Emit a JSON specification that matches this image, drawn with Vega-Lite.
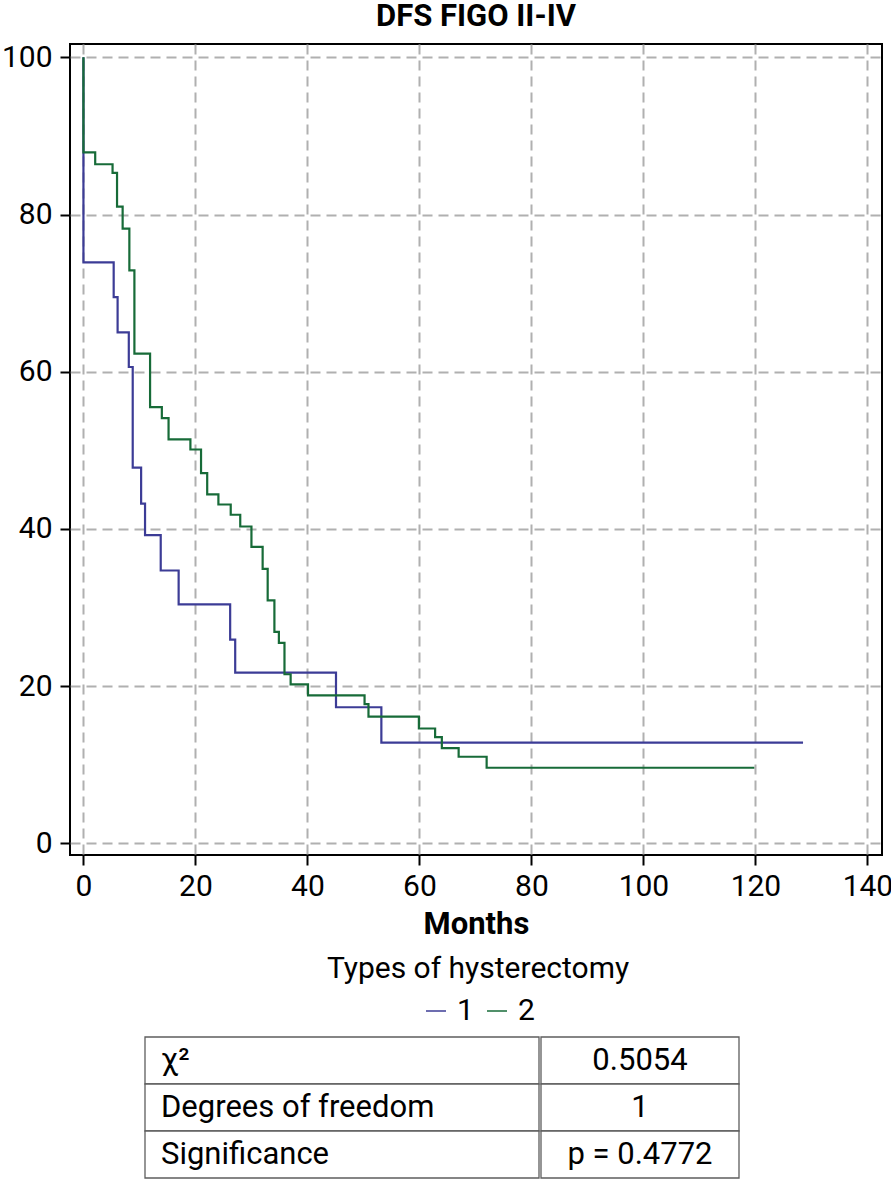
{
  "$schema": "https://vega.github.io/schema/vega-lite/v6.json",
  "padding": {"left": 0, "top": 0, "right": 0, "bottom": 0},
  "background": "white",
  "config": {
    "font": "Roboto",
    "view": {"stroke": null}
  },
  "datasets": {
    "km": [
      {"group": "1", "months": 0, "dfs": 100, "i": 0},
      {"group": "1", "months": 0, "dfs": 73.9, "i": 1},
      {"group": "1", "months": 5.4, "dfs": 69.5, "i": 2},
      {"group": "1", "months": 6.1, "dfs": 65.0, "i": 3},
      {"group": "1", "months": 8.1, "dfs": 60.6, "i": 4},
      {"group": "1", "months": 8.8, "dfs": 47.8, "i": 5},
      {"group": "1", "months": 10.3, "dfs": 43.2, "i": 6},
      {"group": "1", "months": 11.0, "dfs": 39.2, "i": 7},
      {"group": "1", "months": 13.8, "dfs": 34.7, "i": 8},
      {"group": "1", "months": 17.0, "dfs": 30.4, "i": 9},
      {"group": "1", "months": 26.2, "dfs": 25.9, "i": 10},
      {"group": "1", "months": 27.1, "dfs": 21.7, "i": 11},
      {"group": "1", "months": 45.1, "dfs": 17.3, "i": 12},
      {"group": "1", "months": 53.2, "dfs": 12.8, "i": 13},
      {"group": "1", "months": 128.5, "dfs": 12.8, "i": 14},
      {"group": "2", "months": 0, "dfs": 100, "i": 0},
      {"group": "2", "months": 0, "dfs": 87.9, "i": 1},
      {"group": "2", "months": 2.1, "dfs": 86.4, "i": 2},
      {"group": "2", "months": 5.2, "dfs": 85.3, "i": 3},
      {"group": "2", "months": 6.0, "dfs": 81.0, "i": 4},
      {"group": "2", "months": 7.0, "dfs": 78.2, "i": 5},
      {"group": "2", "months": 8.2, "dfs": 72.9, "i": 6},
      {"group": "2", "months": 9.1, "dfs": 62.3, "i": 7},
      {"group": "2", "months": 11.9, "dfs": 55.5, "i": 8},
      {"group": "2", "months": 14.0, "dfs": 54.1, "i": 9},
      {"group": "2", "months": 15.2, "dfs": 51.4, "i": 10},
      {"group": "2", "months": 19.1, "dfs": 50.1, "i": 11},
      {"group": "2", "months": 21.0, "dfs": 47.1, "i": 12},
      {"group": "2", "months": 22.1, "dfs": 44.4, "i": 13},
      {"group": "2", "months": 24.1, "dfs": 43.1, "i": 14},
      {"group": "2", "months": 26.3, "dfs": 41.8, "i": 15},
      {"group": "2", "months": 28.0, "dfs": 40.3, "i": 16},
      {"group": "2", "months": 30.0, "dfs": 37.7, "i": 17},
      {"group": "2", "months": 32.0, "dfs": 34.9, "i": 18},
      {"group": "2", "months": 32.9, "dfs": 30.9, "i": 19},
      {"group": "2", "months": 34.1, "dfs": 26.9, "i": 20},
      {"group": "2", "months": 34.9, "dfs": 25.5, "i": 21},
      {"group": "2", "months": 35.9, "dfs": 21.5, "i": 22},
      {"group": "2", "months": 37.0, "dfs": 20.2, "i": 23},
      {"group": "2", "months": 40.1, "dfs": 18.8, "i": 24},
      {"group": "2", "months": 50.2, "dfs": 17.7, "i": 25},
      {"group": "2", "months": 50.9, "dfs": 16.1, "i": 26},
      {"group": "2", "months": 59.9, "dfs": 14.6, "i": 27},
      {"group": "2", "months": 62.8, "dfs": 13.5, "i": 28},
      {"group": "2", "months": 64.0, "dfs": 12.1, "i": 29},
      {"group": "2", "months": 67.0, "dfs": 11.0, "i": 30},
      {"group": "2", "months": 72.0, "dfs": 9.6, "i": 31},
      {"group": "2", "months": 119.8, "dfs": 9.6, "i": 32}
    ],
    "tbl": [
      {"label": "χ²", "value": "0.5054"},
      {"label": "Degrees of freedom", "value": "1"},
      {"label": "Significance", "value": "p = 0.4772"}
    ]
  },
  "vconcat": [
    {
      "title": {
        "text": "DFS FIGO II-IV",
        "font": "Roboto",
        "fontSize": 31,
        "fontWeight": "bold",
        "color": "black",
        "anchor": "middle",
        "baseline": "alphabetic",
        "offset": -15
      },
      "width": 812,
      "height": 811,
      "view": {"stroke": "black", "strokeWidth": 2},
      "data": {"name": "km"},
      "mark": {"type": "line", "interpolate": "step-after", "strokeWidth": 2.2},
      "encoding": {
        "x": {
          "field": "months",
          "type": "quantitative",
          "scale": {"domain": [-2.4, 142.6], "nice": false, "zero": false},
          "axis": {
            "values": [0, 20, 40, 60, 80, 100, 120, 140],
            "title": "Months",
            "titleFont": "Roboto",
            "titleFontSize": 31,
            "titleFontWeight": "bold",
            "titleColor": "black",
            "titlePadding": 8,
            "labelFont": "Roboto",
            "labelFontSize": 30,
            "labelColor": "black",
            "labelPadding": 6,
            "labelFlush": false,
            "labelOverlap": false,
            "domain": false,
            "ticks": true,
            "tickSize": 10,
            "tickWidth": 2,
            "tickColor": "black",
            "grid": true,
            "gridColor": "#b0b0b0",
            "gridDash": [10, 6],
            "gridWidth": 2
          }
        },
        "y": {
          "field": "dfs",
          "type": "quantitative",
          "scale": {"domain": [-1.5, 101.7], "nice": false, "zero": false},
          "axis": {
            "values": [0, 20, 40, 60, 80, 100],
            "title": null,
            "labelFont": "Roboto",
            "labelFontSize": 30,
            "labelColor": "black",
            "labelPadding": 8,
            "labelFlush": false,
            "labelOverlap": false,
            "domain": false,
            "ticks": true,
            "tickSize": 10,
            "tickWidth": 2,
            "tickColor": "black",
            "grid": true,
            "gridColor": "#b0b0b0",
            "gridDash": [10, 6],
            "gridWidth": 2
          }
        },
        "color": {
          "field": "group",
          "type": "nominal",
          "scale": {"domain": ["1", "2"], "range": ["#3c3c96", "#176b38"]},
          "legend": {
            "orient": "none",
            "legendX": 257,
            "legendY": 910,
            "direction": "horizontal",
            "title": "Types of hysterectomy",
            "titleFont": "Roboto",
            "titleFontSize": 30,
            "titleFontWeight": "normal",
            "titleColor": "black",
            "titleAnchor": "middle",
            "titleLimit": 0,
            "titlePadding": 12,
            "labelFont": "Roboto",
            "labelFontSize": 30,
            "labelColor": "black",
            "labelOffset": 6,
            "symbolType": "stroke",
            "symbolStrokeWidth": 1.5,
            "symbolSize": 400,
            "columnPadding": 8
          }
        },
        "order": {"field": "i", "type": "quantitative"}
      }
    },
    {
      "spacing": 0,
      "data": {"name": "tbl"},
      "hconcat": [
        {
          "width": 74,
          "height": 141,
          "data": {"values": []},
          "mark": "text"
        },
        {
          "width": 394,
          "height": 141,
          "layer": [
            {
              "mark": {"type": "rect", "fill": "white", "stroke": "#5e5e5e", "strokeWidth": 1.3},
              "encoding": {
                "y": {"field": "label", "type": "nominal", "sort": null, "axis": null,
                      "scale": {"paddingInner": 0, "paddingOuter": 0}}
              }
            },
            {
              "mark": {"type": "text", "align": "left", "baseline": "middle", "dx": 16, "font": "Roboto", "fontSize": 31, "color": "black"},
              "encoding": {
                "y": {"field": "label", "type": "nominal", "sort": null, "axis": null,
                      "scale": {"paddingInner": 0, "paddingOuter": 0}},
                "x": {"datum": 0, "type": "quantitative", "scale": {"domain": [0, 1]}, "axis": null},
                "text": {"field": "label"}
              }
            }
          ]
        },
        {
          "width": 198,
          "height": 141,
          "layer": [
            {
              "mark": {"type": "rect", "fill": "white", "stroke": "#5e5e5e", "strokeWidth": 1.3},
              "encoding": {
                "y": {"field": "label", "type": "nominal", "sort": null, "axis": null,
                      "scale": {"paddingInner": 0, "paddingOuter": 0}}
              }
            },
            {
              "mark": {"type": "text", "align": "center", "baseline": "middle", "font": "Roboto", "fontSize": 31, "color": "black"},
              "encoding": {
                "y": {"field": "label", "type": "nominal", "sort": null, "axis": null,
                      "scale": {"paddingInner": 0, "paddingOuter": 0}},
                "text": {"field": "value"}
              }
            }
          ]
        }
      ]
    }
  ],
  "spacing": 9,
  "resolve": {"scale": {"color": "independent"}, "legend": {"color": "independent"}}
}
